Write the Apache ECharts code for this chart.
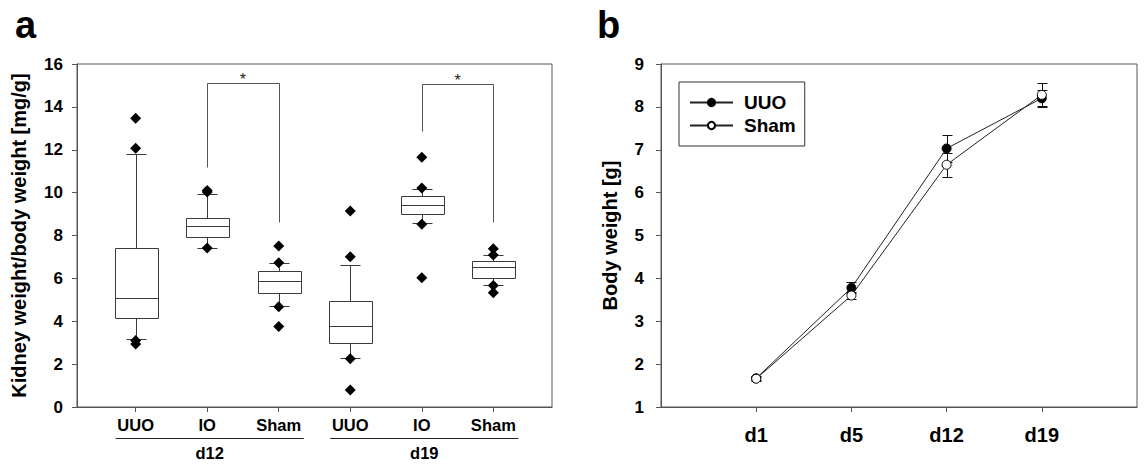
<!DOCTYPE html>
<html><head><meta charset="utf-8">
<script src="https://cdn.jsdelivr.net/npm/echarts@6/dist/echarts.min.js"></script>
<style>html,body{margin:0;padding:0;background:#fff}#c{width:1145px;height:464px}</style>
</head><body><div id="c"></div><script>
// ---------- Panel a data ----------
const groupCats = ['UUO', 'IO', 'Sham', 'UUO', 'IO', 'Sham'];
const groupNames = ['d12', 'd19'];
const groupFirst = [1, 4];
const groupLast = [3, 6];
const whiskerLow = [3.16, 7.40, 4.72, 2.28, 8.57, 5.69];
const q1Vals = [4.14, 7.93, 5.32, 3.02, 8.99, 6.05];
const medianVals = [5.07, 8.44, 5.89, 3.79, 9.44, 6.51];
const q3Vals = [7.40, 8.80, 6.36, 4.96, 9.83, 6.82];
const whiskerHigh = [11.79, 9.95, 6.70, 6.62, 10.17, 7.09];
const outliers = [
  [13.47, 12.07, 3.10, 2.94],
  [10.10, 10.03, 7.42],
  [7.51, 6.73, 4.68, 3.75],
  [9.14, 7.01, 2.25, 0.79],
  [11.65, 10.22, 8.52, 6.03],
  [7.38, 7.09, 5.67, 5.33]
];
const bracketFrom = [2, 5];
const bracketTo = [3, 6];
const bracketTop = [15.1, 15.05];
const bracketLeftEnd = [11.18, 12.87];
const bracketRightEnd = [8.61, 8.64];
const bracketMark = ['*', '*'];
const yMinA = 0, yMaxA = 16, yStepA = 2;

// ---------- Panel b data ----------
const days = ['d1', 'd5', 'd12', 'd19'];
const uuoMean = [1.67, 3.78, 7.03, 8.20];
const uuoErr = [0.05, 0.13, 0.32, 0.20];
const shamMean = [1.66, 3.60, 6.65, 8.28];
const shamErr = [0.05, 0.08, 0.28, 0.27];
const yMinB = 1, yMaxB = 9, yStepB = 1;

const FONT = '"Liberation Sans", Arial, sans-serif';
const AX = '#555';
const STROKE = '#3a3a3a';

const catPos = groupCats.map((c, i) => i + 1);
const dayPos = days.map((d, i) => i + 1);

function ln(x1, y1, x2, y2, color) {
  return { type: 'line', shape: { x1, y1, x2, y2 }, style: { stroke: color || STROKE, lineWidth: 1, fill: null } };
}

function boxItem(params, api) {
  const x = api.value(0);
  const c = v => api.coord([x, v]);
  const lo = c(api.value(1)), q1 = c(api.value(2)), md = c(api.value(3)), q3 = c(api.value(4)), hi = c(api.value(5));
  const bw = api.size([0.6, 0])[0];
  const cw = api.size([0.28, 0])[0];
  const cx = Math.round(lo[0]) + 0.5;
  const r = v => Math.round(v) + 0.5;
  return { type: 'group', children: [
    ln(cx, r(hi[1]), cx, r(q3[1])),
    ln(cx, r(q1[1]), cx, r(lo[1])),
    ln(cx - cw / 2, r(hi[1]), cx + cw / 2, r(hi[1])),
    ln(cx - cw / 2, r(lo[1]), cx + cw / 2, r(lo[1])),
    { type: 'rect', shape: { x: Math.round(cx - bw / 2) + 0.5, y: r(q3[1]), width: Math.round(bw), height: Math.round(q1[1] - q3[1]) },
      style: { fill: '#fff', stroke: STROKE, lineWidth: 1 } },
    ln(Math.round(cx - bw / 2) + 0.5, r(md[1]), Math.round(cx - bw / 2) + 0.5 + Math.round(bw), r(md[1]))
  ] };
}

function bracketItem(params, api) {
  const i = params.dataIndex;
  const a = api.coord([api.value(0), api.value(2)]);
  const b = api.coord([api.value(1), api.value(2)]);
  const aEnd = api.coord([api.value(0), api.value(3)]);
  const bEnd = api.coord([api.value(1), api.value(4)]);
  const r = v => Math.round(v) + 0.5;
  return { type: 'group', children: [
    ln(r(a[0]), r(a[1]), r(b[0]), r(b[1]), '#555'),
    ln(r(a[0]), r(a[1]), r(aEnd[0]), r(aEnd[1]), '#555'),
    ln(r(b[0]), r(b[1]), r(bEnd[0]), r(bEnd[1]), '#555'),
    { type: 'text', style: { text: bracketMark[i], x: (a[0] + b[0]) / 2, y: a[1] - 4,
      textAlign: 'center', textVerticalAlign: 'middle', fontSize: 16, fontFamily: FONT, fill: '#222' } }
  ] };
}

function groupItem(params, api) {
  const i = params.dataIndex;
  const p1 = api.coord([api.value(0) - 0.28, yMinA]);
  const p2 = api.coord([api.value(1) + 0.35, yMinA]);
  const yl = Math.round(p1[1] + 31) + 0.5;
  return { type: 'group', children: [
    { type: 'line', shape: { x1: p1[0], y1: yl, x2: p2[0], y2: yl }, style: { stroke: '#222', lineWidth: 1 } },
    { type: 'text', style: { text: groupNames[i], x: (p1[0] + p2[0]) / 2, y: p1[1] + 46,
      textAlign: 'center', textVerticalAlign: 'middle', fontSize: 16.5, fontWeight: 'bold', fontFamily: FONT, fill: '#000' } }
  ] };
}

function errItem(params, api) {
  const x = api.value(0), m = api.value(1), e = api.value(2);
  const top = api.coord([x, m + e]);
  const bot = api.coord([x, m - e]);
  const cx = Math.round(top[0]) + 0.5;
  const r = v => Math.round(v) + 0.5;
  return { type: 'group', children: [
    ln(cx, r(top[1]), cx, r(bot[1]), '#111'),
    ln(cx - 5, r(top[1]), cx + 5, r(top[1]), '#111'),
    ln(cx - 5, r(bot[1]), cx + 5, r(bot[1]), '#111')
  ] };
}

const outlierData = [];
outliers.forEach((arr, i) => arr.forEach(v => outlierData.push([catPos[i], v])));

const axisLineStyle = { show: true, lineStyle: { color: AX, width: 1 } };

const option = {
  animation: false,
  backgroundColor: '#fff',
  title: [
    { text: 'a', left: 15, top: 6, padding: 0, textStyle: { fontSize: 38, fontWeight: 'bold', fontFamily: FONT, color: '#000' } },
    { text: 'b', left: 597, top: 6, padding: 0, textStyle: { fontSize: 38, fontWeight: 'bold', fontFamily: FONT, color: '#000' } }
  ],
  legend: {
    data: ['UUO', 'Sham'], orient: 'vertical', left: 679, top: 82,
    borderColor: '#333', borderWidth: 1, padding: [11, 9, 11, 10],
    itemWidth: 43, itemHeight: 9, itemGap: 4,
    textStyle: { fontSize: 19, fontWeight: 'bold', fontFamily: FONT, color: '#000', padding: [0, 0, 0, 6] }
  },
  grid: [
    { left: 77, right: 593, top: 64, bottom: 57, show: true, borderColor: AX, borderWidth: 1, backgroundColor: 'transparent' },
    { left: 661, right: 8, top: 64, bottom: 57, show: true, borderColor: AX, borderWidth: 1, backgroundColor: 'transparent' }
  ],
  xAxis: [
    { type: 'value', gridIndex: 0, min: 1 - 0.82, max: groupCats.length + 0.82,
      splitLine: { show: false }, axisLine: axisLineStyle,
      axisTick: { show: true, customValues: catPos, length: 5, lineStyle: { color: AX } },
      axisLabel: { customValues: catPos, formatter: v => groupCats[Math.round(v) - 1], margin: 9,
        fontSize: 16.5, fontWeight: 'bold', fontFamily: FONT, color: '#000' } },
    { type: 'value', gridIndex: 1, min: 0, max: days.length + 1,
      splitLine: { show: false }, axisLine: axisLineStyle,
      axisTick: { show: true, customValues: dayPos, length: 5, lineStyle: { color: AX } },
      axisLabel: { customValues: dayPos, formatter: v => days[Math.round(v) - 1], margin: 18,
        fontSize: 20, fontWeight: 'bold', fontFamily: FONT, color: '#000' } }
  ],
  yAxis: [
    { type: 'value', gridIndex: 0, min: yMinA, max: yMaxA, interval: yStepA,
      splitLine: { show: false }, axisLine: axisLineStyle,
      axisTick: { show: true, length: 5, lineStyle: { color: AX } },
      axisLabel: { margin: 14, fontSize: 17, fontWeight: 'bold', fontFamily: FONT, color: '#000' },
      name: 'Kidney weight/body weight [mg/g]', nameLocation: 'middle', nameGap: 48,
      nameTextStyle: { fontSize: 20, fontWeight: 'bold', fontFamily: FONT, color: '#000' } },
    { type: 'value', gridIndex: 1, min: yMinB, max: yMaxB, interval: yStepB,
      splitLine: { show: false }, axisLine: axisLineStyle,
      axisTick: { show: true, length: 5, lineStyle: { color: AX } },
      axisLabel: { margin: 17, fontSize: 17, fontWeight: 'bold', fontFamily: FONT, color: '#000' },
      name: 'Body weight [g]', nameLocation: 'middle', nameGap: 41,
      nameTextStyle: { fontSize: 20, fontWeight: 'bold', fontFamily: FONT, color: '#000' } }
  ],
  series: [
    { type: 'custom', name: 'boxes', xAxisIndex: 0, yAxisIndex: 0, z: 2,
      renderItem: boxItem, encode: { x: 0, y: [1, 2, 3, 4, 5] },
      data: catPos.map((x, i) => [x, whiskerLow[i], q1Vals[i], medianVals[i], q3Vals[i], whiskerHigh[i]]) },
    { type: 'scatter', name: 'outliers', xAxisIndex: 0, yAxisIndex: 0, z: 3,
      symbol: 'diamond', symbolSize: 11, itemStyle: { color: '#000', opacity: 1 }, data: outlierData },
    { type: 'custom', name: 'brackets', xAxisIndex: 0, yAxisIndex: 0, z: 2,
      renderItem: bracketItem, encode: { x: [0, 1], y: [2, 3, 4] },
      data: bracketFrom.map((f, i) => [f, bracketTo[i], bracketTop[i], bracketLeftEnd[i], bracketRightEnd[i]]) },
    { type: 'custom', name: 'groups', xAxisIndex: 0, yAxisIndex: 0, clip: false, z: 2,
      renderItem: groupItem, encode: { x: [0, 1] },
      data: groupFirst.map((f, i) => [catPos[f - 1], catPos[groupLast[i] - 1]]) },
    { type: 'custom', name: 'errUUO', xAxisIndex: 1, yAxisIndex: 1, z: 2,
      renderItem: errItem, encode: { x: 0, y: 1 },
      data: dayPos.map((x, i) => [x, uuoMean[i], uuoErr[i]]) },
    { type: 'custom', name: 'errSham', xAxisIndex: 1, yAxisIndex: 1, z: 2,
      renderItem: errItem, encode: { x: 0, y: 1 },
      data: dayPos.map((x, i) => [x, shamMean[i], shamErr[i]]) },
    { type: 'line', name: 'UUO', xAxisIndex: 1, yAxisIndex: 1, z: 4,
      symbol: 'circle', symbolSize: 9, showAllSymbol: true,
      itemStyle: { color: '#000', borderColor: '#000', borderWidth: 1 },
      lineStyle: { color: '#222', width: 1 },
      data: dayPos.map((x, i) => [x, uuoMean[i]]) },
    { type: 'line', name: 'Sham', xAxisIndex: 1, yAxisIndex: 1, z: 5,
      symbol: 'circle', symbolSize: 9, showAllSymbol: true,
      itemStyle: { color: '#fff', borderColor: '#000', borderWidth: 1 },
      lineStyle: { color: '#222', width: 1 },
      data: dayPos.map((x, i) => [x, shamMean[i]]) }
  ]
};

const chart = echarts.init(document.getElementById('c'), null, { renderer: 'svg', width: 1145, height: 464 });
chart.setOption(option);
</script></body></html>
